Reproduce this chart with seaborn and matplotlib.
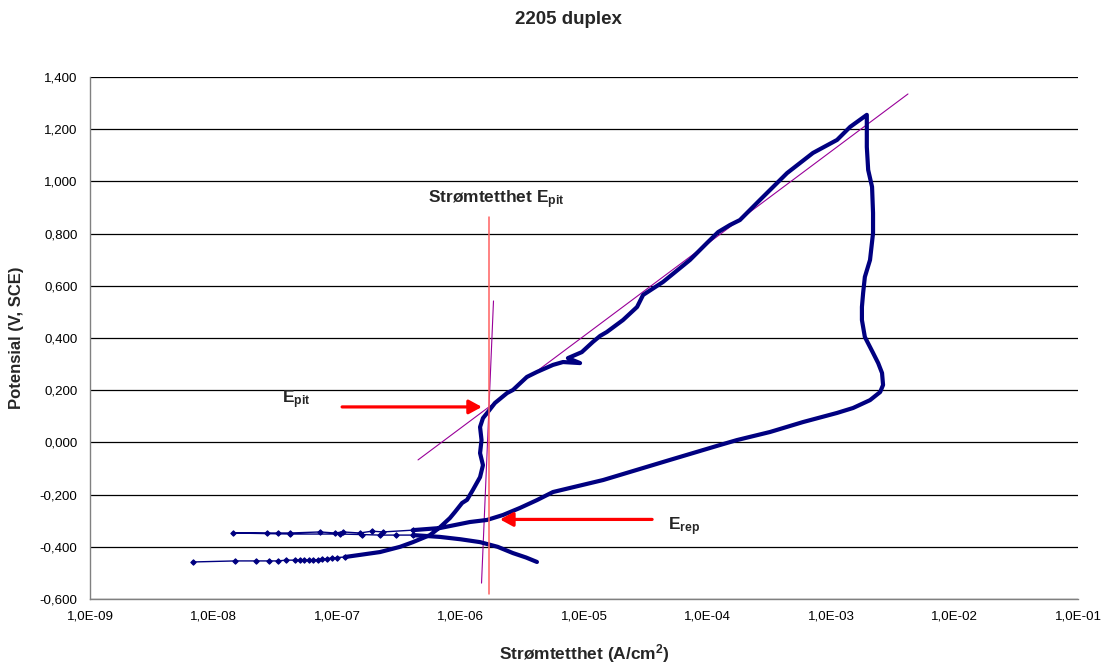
import numpy as np
import pandas as pd
import matplotlib
matplotlib.use("Agg")
import matplotlib.pyplot as plt
from matplotlib.ticker import FixedLocator, FuncFormatter, NullLocator
import seaborn as sns

# Cyclic polarisation scan, 2205 duplex stainless steel
# forward scan start (sparse points near the zero-current crossing)
fwd_tail_current = [6.8e-9, 1.5e-8, 2.2e-8, 2.8e-8, 3.3e-8, 3.9e-8, 4.6e-8, 5.0e-8,
                    5.4e-8, 5.9e-8, 6.4e-8, 7.0e-8, 7.6e-8, 8.3e-8, 9.1e-8, 1.0e-7, 1.16e-7]
fwd_tail_potential = [-0.458, -0.454, -0.454, -0.454, -0.454, -0.451, -0.451, -0.451,
                      -0.451, -0.451, -0.451, -0.449, -0.447, -0.445, -0.443, -0.441, -0.439]

# main scan: passive range, pitting, reversal and return
scan_current = [1.16e-7, 1.53e-7, 2.23e-7, 3.24e-7, 4.12e-7, 5.66e-7, 6.82e-7, 8.2e-7,
                9.0e-7, 1.03e-6, 1.13e-6, 1.26e-6, 1.44e-6, 1.52e-6, 1.44e-6, 1.48e-6,
                1.44e-6, 1.52e-6, 1.67e-6, 1.90e-6, 2.38e-6, 2.66e-6, 3.45e-6, 4.16e-6,
                5.61e-6, 6.76e-6, 9.29e-6, 7.41e-6, 9.6e-6, 1.18e-5, 1.35e-5, 1.53e-5,
                2.07e-5, 2.69e-5, 3.01e-5, 4.37e-5, 7.21e-5, 9.9e-5, 1.22e-4, 1.52e-4,
                1.83e-4, 2.66e-4, 4.41e-4, 7.14e-4, 1.12e-3, 1.43e-3, 1.95e-3, 1.95e-3,
                1.95e-3, 2.0e-3, 2.15e-3, 2.19e-3, 2.19e-3, 2.07e-3, 1.88e-3, 1.82e-3,
                1.78e-3, 1.78e-3, 1.88e-3, 2.19e-3, 2.41e-3, 2.59e-3, 2.64e-3, 2.50e-3,
                2.07e-3, 1.51e-3, 1.12e-3, 5.93e-4, 3.21e-4, 1.73e-4, 1.26e-4, 4.97e-5,
                1.43e-5, 5.61e-6, 4.16e-6, 3.03e-6, 2.21e-6, 1.64e-6, 1.19e-6, 6.82e-7,
                4.12e-7]
scan_potential = [-0.439, -0.431, -0.420, -0.400, -0.382, -0.355, -0.325, -0.290,
                  -0.267, -0.232, -0.220, -0.182, -0.133, -0.087, -0.041, 0.009,
                  0.059, 0.093, 0.117, 0.151, 0.189, 0.201, 0.251, 0.270,
                  0.297, 0.308, 0.304, 0.323, 0.346, 0.385, 0.408, 0.423,
                  0.469, 0.519, 0.565, 0.615, 0.699, 0.764, 0.806, 0.833,
                  0.852, 0.929, 1.032, 1.109, 1.159, 1.209, 1.255, 1.185,
                  1.132, 1.044, 0.979, 0.879, 0.802, 0.699, 0.634, 0.572,
                  0.519, 0.469, 0.404, 0.343, 0.304, 0.266, 0.220, 0.193,
                  0.162, 0.132, 0.113, 0.078, 0.040, 0.009, -0.010, -0.067,
                  -0.144, -0.190, -0.221, -0.251, -0.278, -0.297, -0.305, -0.328,
                  -0.336]

# reverse scan through its zero-current crossing (sparse points)
rev_tail_current = [4.12e-7, 2.36e-7, 1.92e-7, 1.53e-7, 1.12e-7, 9.6e-8, 7.3e-8,
                    4.2e-8, 3.3e-8, 2.7e-8, 1.44e-8, 4.2e-8, 1.06e-7, 1.6e-7,
                    2.23e-7, 3.0e-7, 4.12e-7]
rev_tail_potential = [-0.336, -0.343, -0.340, -0.347, -0.343, -0.347, -0.343,
                      -0.347, -0.347, -0.347, -0.347, -0.351, -0.351, -0.353,
                      -0.355, -0.355, -0.355]

# cathodic end of the reverse scan
rev_end_current = [4.12e-7, 6.82e-7, 1.0e-6, 1.44e-6, 2.0e-6, 2.66e-6, 3.4e-6, 4.16e-6]
rev_end_potential = [-0.355, -0.362, -0.371, -0.382, -0.400, -0.424, -0.441, -0.458]

# construction lines
epit_vertical_current = [1.70e-6, 1.70e-6]
epit_vertical_potential = [0.864, -0.580]
passive_fit_current = [1.85e-6, 1.48e-6]
passive_fit_potential = [0.542, -0.539]
pitting_fit_current = [4.53e-7, 4.2e-3]
pitting_fit_potential = [-0.067, 1.335]

E_pit = 0.136
E_rep = -0.295

y_ticks = [-0.6, -0.4, -0.2, 0.0, 0.2, 0.4, 0.6, 0.8, 1.0, 1.2, 1.4]
x_ticks = [1e-9, 1e-8, 1e-7, 1e-6, 1e-5, 1e-4, 1e-3, 1e-2, 1e-1]

sns.set_theme(style="white")
plt.rcParams["font.family"] = ["Liberation Sans", "DejaVu Sans"]
plt.rcParams["mathtext.fontset"] = "custom"
plt.rcParams["mathtext.rm"] = "Liberation Sans"
plt.rcParams["mathtext.bf"] = "Liberation Sans:bold"
plt.rcParams["mathtext.default"] = "bf"

navy = "#000080"

fig = plt.figure(figsize=(11.07, 6.65), dpi=100)
ax = fig.add_axes([0.0813, 0.0992, 0.8925, 0.785])

def seg(cur, pot):
    return pd.DataFrame({"i": cur, "E": pot})

# construction lines drawn under the curve
sns.lineplot(data=seg(pitting_fit_current, pitting_fit_potential), x="i", y="E",
             sort=False, estimator=None, color="#990099", lw=0.8, ax=ax, zorder=3)
sns.lineplot(data=seg(passive_fit_current, passive_fit_potential), x="i", y="E",
             sort=False, estimator=None, color="#990099", lw=0.8, ax=ax, zorder=3)

# measured curve
for cur, pot in [(fwd_tail_current, fwd_tail_potential),
                 (rev_tail_current, rev_tail_potential)]:
    sns.lineplot(data=seg(cur, pot), x="i", y="E", sort=False, estimator=None,
                 color=navy, lw=1.0, marker="D", markersize=2.8,
                 markeredgecolor=navy, markerfacecolor=navy, ax=ax, zorder=4)
for cur, pot in [(scan_current, scan_potential),
                 (rev_end_current, rev_end_potential)]:
    sns.lineplot(data=seg(cur, pot), x="i", y="E", sort=False, estimator=None,
                 color=navy, lw=3.0, ax=ax, zorder=4,
                 solid_capstyle="round", solid_joinstyle="round")

sns.lineplot(data=seg(epit_vertical_current, epit_vertical_potential), x="i", y="E",
             sort=False, estimator=None, color="#FF6060", lw=1.1, ax=ax, zorder=5)

ax.set_xscale("log")
ax.set_xlim(1e-9, 1e-1)
ax.set_ylim(-0.6, 1.4)
ax.xaxis.set_major_locator(FixedLocator(x_ticks))
ax.xaxis.set_minor_locator(NullLocator())
ax.yaxis.set_major_locator(FixedLocator(y_ticks))
ax.xaxis.set_major_formatter(FuncFormatter(lambda v, p: f"{v:.1E}".replace(".", ",")))
ax.yaxis.set_major_formatter(FuncFormatter(lambda v, p: f"{v:.3f}".replace(".", ",")))
ax.yaxis.grid(True, color="black", lw=0.9)
ax.xaxis.grid(False)
ax.set_axisbelow(True)
for side in ["top", "right"]:
    ax.spines[side].set_visible(False)
for side in ["left", "bottom"]:
    ax.spines[side].set_color("#808080")
    ax.spines[side].set_linewidth(1.0)
ax.tick_params(axis="both", which="major", direction="out", length=5, width=1,
               color="#808080", labelsize=9.6, labelcolor="black")
ax.tick_params(axis="x", pad=3)
ax.tick_params(axis="y", pad=4)

ax.set_xlabel("Strømtetthet (A/cm$^\\mathregular{2}$)", fontsize=12.5, fontweight="bold")
ax.set_ylabel("Potensial (V, SCE)", fontsize=12, fontweight="bold")
ax.xaxis.label.set_va("center")
ax.yaxis.label.set_va("center")
ax.xaxis.set_label_coords(0.5, -0.105)
ax.yaxis.set_label_coords(-0.0739, 0.5)
fig.text(568 / 1107, 1 - 19 / 665, "2205 duplex", ha="center", va="center",
         fontsize=13.5, fontweight="bold")

# arrows marking E_pit and E_rep
arrow = dict(arrowstyle="-|>,head_length=0.55,head_width=0.3", color="red", lw=2.3,
             shrinkA=0, shrinkB=0, mutation_scale=14)
ax.annotate("", xy=(1.49e-6, E_pit), xytext=(1.10e-7, E_pit), arrowprops=arrow, zorder=6)
ax.annotate("", xy=(2.09e-6, E_rep), xytext=(3.56e-5, E_rep), arrowprops=arrow, zorder=6)

ax.text(3.59e-8, 0.150, "E$_{pit}$", fontsize=12.5, fontweight="bold", ha="left",
        va="baseline")
ax.text(4.79e-5, -0.335, "E$_{rep}$", fontsize=12.5, fontweight="bold", ha="left",
        va="baseline")
ax.text(1.94e-6, 0.917, "Strømtetthet E$_{pit}$", fontsize=12.5, fontweight="bold",
        ha="center", va="baseline")

fig.savefig("out.png", dpi=100)
